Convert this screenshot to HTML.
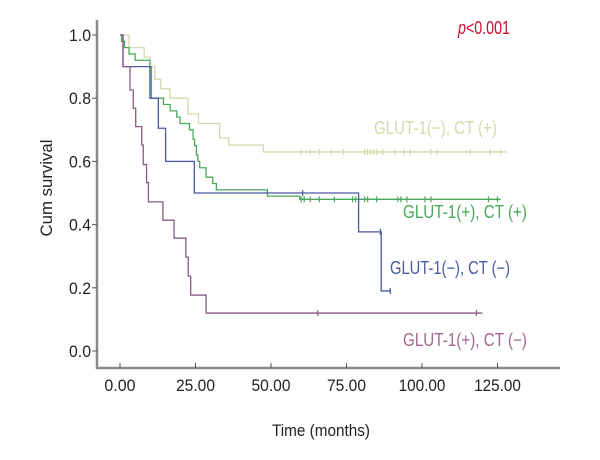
<!DOCTYPE html>
<html><head><meta charset="utf-8"><style>
body{margin:0;background:#fff}
svg{display:block}
text{font-family:"Liberation Sans Narrow","Liberation Sans",sans-serif}
</style></head><body>
<svg id="chart" width="600" height="460"></svg>
<script>
const xTicks=[0,25,50,75,100,125];
const yTicks=[0.0,0.2,0.4,0.6,0.8,1.0];
const lightTimes=[0,3,8,10,11.5,13.5,16.5,22.5,26,33,36,47.5,128];
const lightSurv=[1.0,0.96,0.93,0.90,0.86,0.83,0.80,0.75,0.72,0.674,0.652,0.63,0.63];
const lightCensor=[60,63,66,70,74,81,82,83,84,85,87,91,94,96,103,105,116,122.5,126];
const greenTimes=[0,0.5,1.5,3,5,9.9,10.4,14.4,16.6,18.8,19.9,23,24.2,24.7,25.3,25.8,26.4,28.5,30.7,31.9,48.8,59.5,126];
const greenSurv=[1.0,0.98,0.96,0.94,0.92,0.90,0.80,0.78,0.76,0.74,0.72,0.70,0.67,0.65,0.62,0.60,0.58,0.55,0.53,0.51,0.49,0.48,0.48];
const greenCensor=[60,61,63,66,71,77,78,79,81,82,85,92,93,95,101,103,122,125];
const blueTimes=[0,1,9.9,12.7,15.1,24.6,79,86.5,89.5];
const blueSurv=[1.0,0.9,0.80,0.705,0.60,0.50,0.377,0.19,0.19];
const blueCensor=[60.5,86.2,89.5];
const purpleTimes=[0,1,3.3,4.4,5.2,7.2,7.7,8.8,9.4,14.2,17.9,21.8,22.6,23.4,28.5,120];
const purpleSurv=[1.0,0.90,0.826,0.768,0.71,0.652,0.59,0.533,0.472,0.414,0.357,0.297,0.237,0.177,0.12,0.12];
const purpleCensor=[65.5,118];

const NS="http://www.w3.org/2000/svg";
const svg=document.getElementById('chart');
const X=t=>120+t*3.02;
const Y=s=>351-s*316;
function mk(tag,attrs,parent){const e=document.createElementNS(NS,tag);for(const k in attrs)e.setAttribute(k,attrs[k]);(parent||svg).appendChild(e);return e;}

let ax=mk('path',{d:'M97,20 L97,368 L560,368',fill:'none',stroke:'#8a8a8a','stroke-width':2.5});


yTicks.forEach(v=>{
  let l=mk('line',{x1:92,x2:97,y1:Y(v),y2:Y(v),stroke:'#555','stroke-width':1});
  
  
  let t=mk('text',{x:91,y:Y(v)+6,'text-anchor':'end','font-size':17,fill:'#222',textLength:22,lengthAdjust:'spacingAndGlyphs'});
  t.textContent=v.toFixed(1);
  
  
});
xTicks.forEach(v=>{
  let l=mk('line',{x1:X(v),x2:X(v),y1:363,y2:368,stroke:'#555','stroke-width':1});
  
  
  const s=v.toFixed(2);
  let t=mk('text',{x:X(v),y:391,'text-anchor':'middle','font-size':17,fill:'#222',textLength:s.length*7.8,lengthAdjust:'spacingAndGlyphs'});
  t.textContent=s;
  
  
});
let yt=mk('text',{x:0,y:0,transform:'translate(52,188) rotate(-90)','text-anchor':'middle','font-size':17,fill:'#222',textLength:97,lengthAdjust:'spacingAndGlyphs'});
yt.textContent='Cum survival';


let xt=mk('text',{x:321,y:436,'text-anchor':'middle','font-size':17,fill:'#222',textLength:98,lengthAdjust:'spacingAndGlyphs'});
xt.textContent='Time (months)';



function series(times,surv,censor,color,name){
  let d='M'+X(times[0])+','+Y(surv[0]);
  for(let i=1;i<times.length;i++){d+=' L'+X(times[i])+','+Y(surv[i-1])+' L'+X(times[i])+','+Y(surv[i]);}
  let p=mk('path',{d:d,fill:'none',stroke:color,'stroke-width':1.3});
  
  
  censor.forEach(c=>{
    let s=surv[0];
    for(let i=0;i<times.length;i++){if(times[i]<=c)s=surv[i];}
    let m=mk('line',{x1:X(c),x2:X(c),y1:Y(s)-3,y2:Y(s)+3,stroke:color,'stroke-width':1.2});
    
    
  });
}
series(lightTimes,lightSurv,lightCensor,'#d3d9a8','glut-neg-ct-pos');
series(greenTimes,greenSurv,greenCensor,'#4aa85a','glut-pos-ct-pos');
series(blueTimes,blueSurv,blueCensor,'#4a57a6','glut-neg-ct-neg');
series(purpleTimes,purpleSurv,purpleCensor,'#8a5a86','glut-pos-ct-neg');

function label(txt,x,y,color,name,w){
  let t=mk('text',{x:x,y:y,'font-size':18,fill:color,textLength:w,lengthAdjust:'spacingAndGlyphs'});
  t.textContent=txt;
  
  
}
label('GLUT-1(\u2212), CT (+)',374,134,'#d3d9a8','legend-glut-neg-ct-pos',123);
label('GLUT-1(+), CT (+)',403,218,'#4aa85a','legend-glut-pos-ct-pos',124);
label('GLUT-1(\u2212), CT (\u2212)',390,274,'#4a57a6','legend-glut-neg-ct-neg',120);
label('GLUT-1(+), CT (\u2212)',403,346,'#a0688c','legend-glut-pos-ct-neg',124);
let pv=mk('text',{x:458,y:34,'font-size':18,fill:'#c8102e',textLength:52,lengthAdjust:'spacingAndGlyphs'});
pv.innerHTML='<tspan font-style="italic">p</tspan>&lt;0.001';


</script>
</body></html>
